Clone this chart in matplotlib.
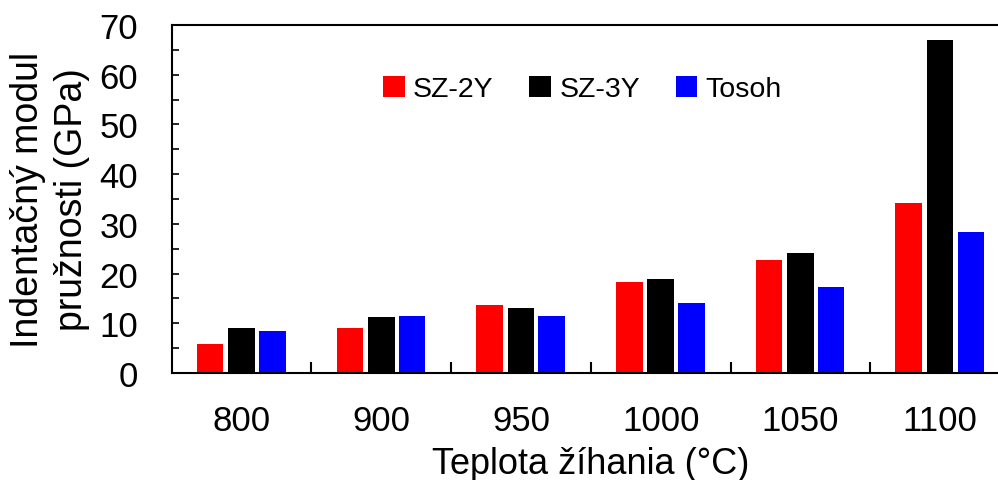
import matplotlib
matplotlib.use("Agg")
import matplotlib.pyplot as plt
import numpy as np

plt.rcParams['font.family'] = ['Liberation Sans', 'DejaVu Sans']

categories = ['800', '900', '950', '1000', '1050', '1100']
series_names = ['SZ-2Y', 'SZ-3Y', 'Tosoh']
sz2y = [5.9, 9.0, 13.6, 18.3, 22.8, 34.2]
sz3y = [9.0, 11.3, 13.0, 19.0, 24.2, 67.0]
tosoh = [8.5, 11.5, 11.4, 14.1, 17.3, 28.3]
colors = ['#FF0000', '#000000', '#0000FF']
yticks = [0, 10, 20, 30, 40, 50, 60, 70]

fig = plt.figure(figsize=(9.98, 4.81), dpi=100)
ax = fig.add_axes([171.7/998, 107/481, 838.3/998, 348/481])

x = np.arange(len(categories))
w = 0.19
offs = [-0.225, 0.0, 0.22]
for vals, c, o, name in zip([sz2y, sz3y, tosoh], colors, offs, series_names):
    ax.bar(x + o, vals, width=w, color=c, label=name, linewidth=0)

ax.set_xlim(-0.5, len(categories) - 0.5)
ax.set_ylim(0, 70)

for s in ['left', 'top', 'bottom', 'right']:
    ax.spines[s].set_linewidth(1.5)

ax.set_yticks(yticks)
ax.set_yticks(np.arange(0, 71, 5), minor=True)
ax.tick_params(axis='y', which='both', direction='in', length=5, width=1.2,
               labelsize=25, pad=24)
ax.set_xticks(x)
ax.set_xticklabels(categories)
ax.set_xticks(np.arange(0.5, len(categories) - 0.5, 1), minor=True)
ax.tick_params(axis='x', which='major', length=0, labelsize=25, pad=22)
ax.tick_params(axis='x', which='minor', direction='in', length=8, width=1.5)

ax.set_xlabel('Teplota žíhania (°C)', fontsize=26)
ax.xaxis.set_label_coords(0.5, -0.21)
ax.set_ylabel('Indentačný modul\npružnosti (GPa)', fontsize=27, linespacing=1.3)
ax.yaxis.set_label_coords(-0.097, 0.5)

ax.legend(loc='center', bbox_to_anchor=(0.49, 0.816), ncol=3, frameon=False,
          fontsize=20.5, handlelength=0.75, handleheight=0.75, handletextpad=0.3,
          columnspacing=1.25, borderaxespad=0)

fig.savefig('out.png', dpi=100)
